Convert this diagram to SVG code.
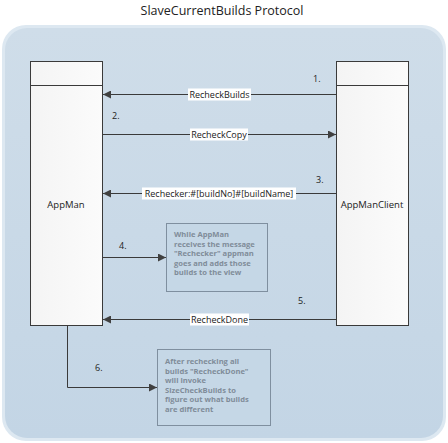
<svg xmlns="http://www.w3.org/2000/svg" width="448" height="443" viewBox="0 0 448 443">
<defs>
<linearGradient id="bg" x1="0" y1="0" x2="0" y2="1">
<stop offset="0" stop-color="#cfdde9"/>
<stop offset="1" stop-color="#c3d5e5"/>
</linearGradient>
<linearGradient id="box" x1="0" y1="0" x2="1" y2="0">
<stop offset="0" stop-color="#f4f4f4"/>
<stop offset="1" stop-color="#fbfbfb"/>
</linearGradient>
<marker id="ah" viewBox="0 0 10 10" refX="10" refY="5" markerWidth="9" markerHeight="8" markerUnits="userSpaceOnUse" orient="auto">
<path d="M0,0 L10,5 L0,10 Z" fill="#404040"/>
</marker>
<style>
.life{fill:url(#box);stroke:#3a3a3a;stroke-width:1}
.msg{stroke:#3a3a3a;stroke-width:1;fill:none;marker-end:url(#ah)}
.lbl{font-family:"Open Sans","Liberation Sans",sans-serif;font-size:9px;fill:#222}
.lblbg{fill:#ffffff}
.num{font-family:"Open Sans","Liberation Sans",sans-serif;font-size:9px;fill:#222}
.note{fill:#c5d7e6;stroke:#7f8f9f;stroke-width:1}
.nt{font-family:"Open Sans","Liberation Sans",sans-serif;font-size:7.6px;font-weight:bold;fill:#808c99}
.name{font-family:"Open Sans","Liberation Sans",sans-serif;font-size:9.5px;fill:#222}
</style>
</defs>
<rect width="448" height="443" fill="#ffffff"/>
<text x="222" y="15" text-anchor="middle" font-family="'Open Sans','Liberation Sans',sans-serif" font-size="12.5" fill="#222">SlaveCurrentBuilds Protocol</text>
<rect x="2" y="25" width="444" height="416" rx="24" fill="#dde8f1"/>
<rect x="5" y="28" width="438" height="410" rx="22" fill="url(#bg)"/>

<g id="appman">
<rect class="life" x="30.5" y="61.5" width="72" height="264"/>
<line x1="30.5" y1="85.5" x2="102.5" y2="85.5" stroke="#3a3a3a"/>
<text class="name" x="66" y="208" text-anchor="middle">AppMan</text>
</g>
<g id="appmanclient">
<rect class="life" x="336.5" y="61.5" width="72" height="264"/>
<line x1="336.5" y1="85.5" x2="408.5" y2="85.5" stroke="#3a3a3a"/>
<text class="name" x="372" y="208" text-anchor="middle">AppManClient</text>
</g>
<g id="note1">
<rect class="note" x="166.5" y="223.5" width="101" height="68"/>
<text class="nt" x="174" y="237">While AppMan</text>
<text class="nt" x="174" y="246.5">receives the message</text>
<text class="nt" x="174" y="256">"Rechecker" appman</text>
<text class="nt" x="174" y="265.5">goes and adds those</text>
<text class="nt" x="174" y="275">builds to the view</text>
</g>
<g id="note2">
<rect class="note" x="157.5" y="349.5" width="113" height="76"/>
<text class="nt" x="165" y="364">After rechecking all</text>
<text class="nt" x="165" y="373.5">builds "RecheckDone"</text>
<text class="nt" x="165" y="383">will invoke</text>
<text class="nt" x="165" y="392.5">SizeCheckBuilds to</text>
<text class="nt" x="165" y="402">figure out what builds</text>
<text class="nt" x="165" y="411.5">are different</text>
</g>

<g id="connectors">
<line class="msg" x1="336" y1="94.5" x2="103" y2="94.5"/>
<rect class="lblbg" x="188" y="88.5" width="63" height="12"/>
<text class="lbl" x="219.5" y="97.8" text-anchor="middle">RecheckBuilds</text>
<text class="num" x="313" y="82">1.</text>

<line class="msg" x1="102" y1="134.5" x2="336" y2="134.5"/>
<rect class="lblbg" x="190" y="128.5" width="58" height="12"/>
<text class="lbl" x="219" y="137.8" text-anchor="middle">RecheckCopy</text>
<text class="num" x="112" y="119">2.</text>

<line class="msg" x1="336" y1="193.5" x2="103" y2="193.5"/>
<rect class="lblbg" x="142" y="187.5" width="154" height="12"/>
<text class="lbl" x="219" y="196.8" text-anchor="middle">Rechecker:#[buildNo]#[buildName]</text>
<text class="num" x="316" y="183">3.</text>

<line class="msg" x1="102" y1="257.5" x2="166" y2="257.5"/>
<text class="num" x="119" y="249">4.</text>

<line class="msg" x1="336" y1="319.5" x2="103" y2="319.5"/>
<rect class="lblbg" x="190" y="313.5" width="59" height="12"/>
<text class="lbl" x="219.5" y="322.8" text-anchor="middle">RecheckDone</text>
<text class="num" x="298" y="304">5.</text>

<polyline class="msg" points="67.5,325 67.5,387.5 157,387.5"/>
<text class="num" x="95" y="371">6.</text>
</g>
</svg>
